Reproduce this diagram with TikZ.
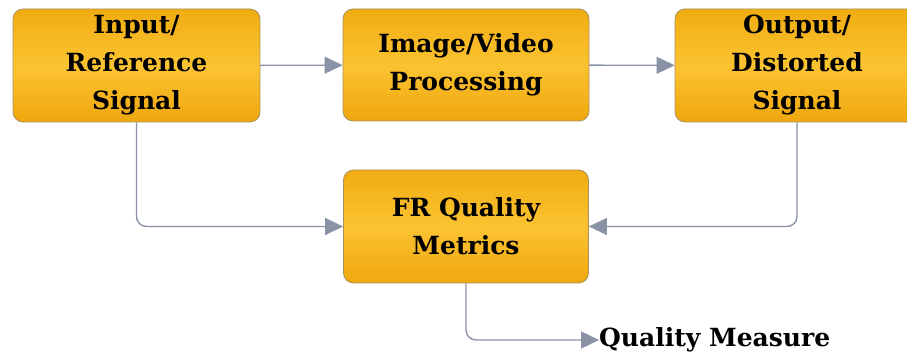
\documentclass[tikz,border=0pt]{standalone}
\usepackage{fontspec}
\setmainfont{DejaVu Serif}
\usetikzlibrary{arrows.meta}
\definecolor{boxtop}{HTML}{F0AC12}
\definecolor{boxmid}{HTML}{FBC331}
\definecolor{boxbot}{HTML}{EFA70E}
\definecolor{boxedge}{HTML}{A8925E}
\definecolor{conncol}{HTML}{8A93A6}
\tikzset{
  box/.style={rounded corners=10pt, draw=boxedge, line width=0.8pt,
    top color=boxtop, bottom color=boxbot, middle color=boxmid,
    align=center, inner sep=0pt,
    font=\fontsize{25}{38}\selectfont\bfseries},
  conn/.style={draw=conncol, line width=1.4pt, rounded corners=10pt,
    -{Triangle[length=18pt,width=17pt]}},
}
\begin{document}
\begin{tikzpicture}[x=1pt,y=1pt]
\useasboundingbox (0,0) rectangle (907,355);
\clip (0,0) rectangle (907,355);
\fill[white] (0,0) rectangle (907,355);
\node[box, minimum width=247pt, minimum height=113pt] (b1) at (136.5,289.5) {Input/\\Reference\\Signal};
\node[box, minimum width=246pt, minimum height=112pt] (b2) at (466,290) {Image/Video\\Processing};
\node[box, minimum width=244pt, minimum height=113pt] (b3) at (797,289.5) {Output/\\Distorted\\Signal};
\node[box, minimum width=245pt, minimum height=113pt] (b4) at (466,128.5) {FR Quality\\Metrics};
\node[anchor=west, inner sep=0pt, font=\fontsize{25}{30}\selectfont\bfseries] (qm) at (599,15) {Quality Measure};
\draw[conn] (b1) -- (b2);
\draw[conn] (b2) -- (b3);
\draw[conn] (b1.south) |- (b4.west);
\draw[conn] (b3.south) |- (b4.east);
\draw[conn] (b4.south) |- (qm.west);
\end{tikzpicture}
\end{document}
